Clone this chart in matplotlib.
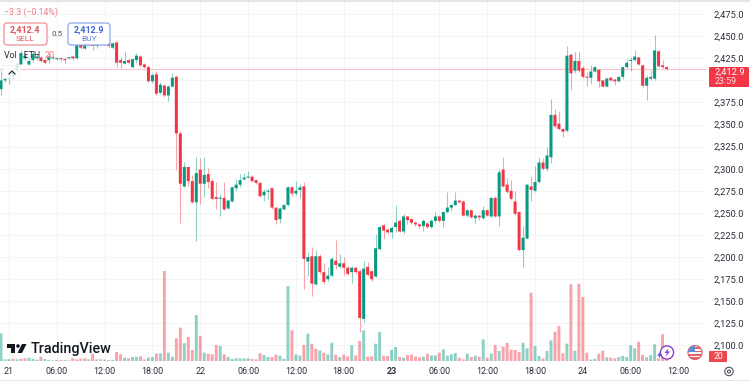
import matplotlib
matplotlib.use("Agg")
import numpy as np
import matplotlib.pyplot as plt
from matplotlib.patches import Circle, FancyBboxPatch, Polygon, Rectangle

plt.rcParams['font.family'] = ['Roboto', 'DejaVu Sans']

# 30 minute ETH candles
opens = [2390, 2400, 2402, 2404, 2411, 2418, 2425, 2418, 2423, 2425, 2426, 2423,
         2423, 2425, 2424, 2425, 2424, 2425, 2427, 2425, 2441, 2436, 2440, 2441,
         2439, 2441, 2442, 2442, 2437, 2443, 2423, 2419, 2423, 2415, 2423, 2427,
         2418, 2415, 2399, 2407, 2386, 2394, 2383, 2393, 2404, 2340, 2280, 2302,
         2286, 2262, 2299, 2283, 2294, 2286, 2268, 2266, 2267, 2255, 2263, 2278,
         2282, 2288, 2290, 2291, 2287, 2284, 2270, 2274, 2278, 2256, 2243, 2254,
         2259, 2279, 2272, 2276, 2280, 2195, 2201, 2169, 2201, 2183, 2175, 2179,
         2196, 2189, 2193, 2188, 2183, 2188, 2184, 2130, 2189, 2184, 2178, 2209,
         2236, 2231, 2228, 2234, 2241, 2229, 2246, 2243, 2239, 2237, 2235, 2238,
         2234, 2241, 2246, 2241, 2251, 2256, 2259, 2264, 2263, 2247, 2253, 2244,
         2247, 2244, 2253, 2246, 2267, 2246, 2299, 2282, 2275, 2263, 2251, 2208,
         2221, 2280, 2275, 2285, 2307, 2300, 2313, 2361, 2351, 2345, 2343, 2429,
         2411, 2422, 2414, 2404, 2403, 2410, 2412, 2400, 2393, 2403, 2401, 2399,
         2404, 2415, 2422, 2423, 2426, 2417, 2394, 2402, 2402, 2433, 2417, 2415]
highs = [2411, 2404, 2414, 2416, 2420, 2434, 2431, 2425, 2433, 2430, 2428, 2424,
         2431, 2428, 2427, 2426, 2426, 2427, 2429, 2444, 2445, 2443, 2444, 2443,
         2443, 2444, 2444, 2444, 2444, 2444, 2426, 2433, 2425, 2425, 2431, 2429,
         2420, 2417, 2408, 2411, 2398, 2396, 2395, 2408, 2406, 2343, 2308, 2302,
         2293, 2313, 2312, 2313, 2301, 2288, 2285, 2271, 2285, 2266, 2280, 2288,
         2294, 2295, 2298, 2293, 2288, 2285, 2277, 2278, 2279, 2257, 2257, 2260,
         2281, 2280, 2286, 2283, 2285, 2206, 2211, 2208, 2203, 2193, 2189, 2200,
         2219, 2204, 2200, 2190, 2190, 2189, 2186, 2196, 2195, 2185, 2226, 2236,
         2237, 2233, 2235, 2259, 2243, 2249, 2247, 2244, 2241, 2238, 2243, 2240,
         2243, 2251, 2248, 2252, 2274, 2260, 2274, 2265, 2264, 2255, 2254, 2249,
         2248, 2258, 2254, 2268, 2269, 2300, 2313, 2290, 2287, 2275, 2252, 2235,
         2283, 2292, 2303, 2313, 2312, 2325, 2379, 2368, 2365, 2346, 2439, 2431,
         2432, 2432, 2416, 2410, 2417, 2416, 2413, 2401, 2404, 2404, 2402, 2405,
         2416, 2424, 2426, 2434, 2427, 2418, 2406, 2412, 2451, 2434, 2423, 2416]
lows = [2383, 2398, 2396, 2402, 2408, 2420, 2423, 2417, 2421, 2423, 2421, 2419,
        2420, 2424, 2423, 2422, 2420, 2424, 2423, 2424, 2435, 2435, 2439, 2434,
        2437, 2440, 2440, 2437, 2436, 2415, 2414, 2418, 2418, 2414, 2420, 2416,
        2414, 2398, 2397, 2384, 2385, 2381, 2377, 2392, 2299, 2239, 2279, 2280,
        2261, 2218, 2260, 2268, 2278, 2265, 2254, 2246, 2253, 2254, 2262, 2275,
        2279, 2287, 2289, 2285, 2283, 2268, 2264, 2266, 2255, 2237, 2239, 2253,
        2258, 2269, 2270, 2267, 2164, 2179, 2156, 2168, 2181, 2170, 2173, 2178,
        2187, 2188, 2180, 2180, 2171, 2181, 2115, 2126, 2179, 2173, 2177, 2208,
        2221, 2226, 2222, 2228, 2228, 2226, 2238, 2238, 2235, 2233, 2229, 2233,
        2233, 2239, 2240, 2234, 2250, 2252, 2258, 2261, 2246, 2245, 2244, 2239,
        2242, 2243, 2246, 2245, 2245, 2235, 2279, 2272, 2265, 2248, 2207, 2189,
        2220, 2264, 2274, 2284, 2299, 2297, 2307, 2346, 2344, 2336, 2342, 2389,
        2408, 2410, 2403, 2394, 2396, 2409, 2392, 2392, 2392, 2399, 2395, 2398,
        2402, 2414, 2411, 2422, 2417, 2393, 2378, 2400, 2401, 2415, 2414, 2412]
closes = [2400, 2402, 2404, 2411, 2417, 2431, 2428, 2422, 2430, 2427, 2422, 2420,
          2427, 2426, 2425, 2424, 2423, 2426, 2425, 2441, 2437, 2440, 2441, 2439,
          2441, 2442, 2441, 2439, 2442, 2420, 2420, 2422, 2420, 2424, 2428, 2417,
          2415, 2399, 2406, 2385, 2395, 2383, 2393, 2403, 2340, 2283, 2302, 2286,
          2262, 2295, 2283, 2293, 2285, 2266, 2266, 2267, 2254, 2264, 2279, 2282,
          2287, 2290, 2291, 2286, 2284, 2269, 2274, 2275, 2256, 2242, 2255, 2259,
          2279, 2272, 2275, 2279, 2198, 2200, 2170, 2201, 2183, 2172, 2179, 2198,
          2191, 2193, 2188, 2181, 2188, 2183, 2131, 2187, 2180, 2175, 2210, 2234,
          2230, 2228, 2233, 2239, 2229, 2246, 2242, 2239, 2237, 2235, 2241, 2234,
          2241, 2246, 2241, 2251, 2256, 2259, 2264, 2262, 2247, 2253, 2245, 2247,
          2245, 2253, 2247, 2267, 2246, 2296, 2280, 2274, 2266, 2249, 2208, 2222,
          2282, 2276, 2285, 2307, 2300, 2315, 2361, 2348, 2345, 2342, 2428, 2408,
          2422, 2411, 2404, 2403, 2410, 2415, 2399, 2393, 2402, 2400, 2399, 2404,
          2415, 2420, 2423, 2427, 2418, 2394, 2403, 2404, 2434, 2416, 2415, 2412.9]
volumes = [83, 5, 5, 7, 5, 7, 8, 10, 7, 4, 13, 6, 3, 2, 3, 3, 3, 2, 8, 5, 7, 8, 5, 22,
           5, 5, 4, 3, 3, 27, 20, 10, 8, 12, 12, 14, 5, 10, 12, 22, 23, 270, 25, 13, 68, 100, 53, 72,
           33, 138, 75, 25, 22, 20, 48, 45, 20, 12, 6, 8, 8, 8, 8, 6, 5, 23, 18, 12, 12, 19, 16, 7,
           225, 92, 20, 16, 48, 82, 52, 37, 32, 25, 20, 55, 19, 12, 19, 14, 47, 17, 60, 92, 13, 14, 52, 87,
           16, 15, 33, 42, 12, 10, 18, 19, 13, 11, 13, 22, 17, 17, 25, 35, 16, 20, 24, 10, 5, 22, 12, 16,
           13, 65, 10, 22, 48, 30, 43, 54, 34, 33, 27, 55, 38, 205, 45, 15, 8, 30, 62, 88, 105, 23, 52, 230,
           31, 232, 192, 25, 4, 7, 22, 31, 11, 10, 8, 12, 15, 12, 47, 38, 58, 18, 11, 18, 50, 8, 80, 5]
volume_dirs = ("gggrgrrgggr" "gggrrgrrrrrg" "r" "grgrg"
               "rrgrggrrggrgrggrrgrrgrgrrrgrgggggg"
               "rrrggrrgggrggrgrrgrggrgrrgrrgrrggrrggrgrrrrgrggrggggrrgrgrgrgrg"
               "rrrrrggrggrggrrrgrgrrrggrrgrrgggggrrgggrrr")
# 2,400.0 sits behind the last price tag, so it has no label
price_ticks = [2475, 2450, 2425, 2375, 2350, 2325, 2300, 2275, 2250, 2225,
               2200, 2175, 2150, 2125, 2100]
grid_prices = [2475, 2450, 2425, 2400, 2375, 2350, 2325, 2300, 2275, 2250, 2225,
               2200, 2175, 2150, 2125, 2100]
time_positions = [2, 14, 26, 38, 50, 62, 74, 86, 98, 110, 122, 134, 146, 158, 170]
time_labels = ["21", "06:00", "12:00", "18:00", "22", "06:00", "12:00", "18:00", "23",
               "06:00", "12:00", "18:00", "24", "06:00", "12:00"]
last_price = 2412.9

UP = "#089981"
DOWN = "#F23645"
W, H = 750, 381
PLOT_W, PLOT_H = 706, 361

assert len(volumes) == len(volume_dirs) == len(closes)

opens, highs, lows, closes = map(np.array, (opens, highs, lows, closes))
idx = np.arange(len(closes))
rising = closes >= opens
candle_colors = np.where(rising, UP, DOWN)
vol_colors = [UP if d == "g" else DOWN for d in volume_dirs]

fig = plt.figure(figsize=(7.5, 3.81), dpi=100, facecolor="white")
rect = [0, 1 - PLOT_H / H, PLOT_W / W, PLOT_H / H]

# grid at the back, then volume, then candles
ax_grid = fig.add_axes(rect, zorder=0)
ax_vol = fig.add_axes(rect, zorder=1)
ax = fig.add_axes(rect, zorder=2)

for a in (ax_grid, ax, ax_vol):
    a.set_xlim(-0.25, 176.9)
ax_grid.set_ylim(2082.4, 2491)
ax.set_ylim(2082.4, 2491)
ax_vol.set_ylim(0, 1083)
vol_bars = ax_vol.bar(idx, volumes, width=0.74, color=vol_colors, alpha=0.45, linewidth=0)
for b in vol_bars:
    b.set_snap(False)
ax_vol.axis("off")
ax_vol.patch.set_visible(False)

ax.patch.set_visible(False)
ax.vlines(idx, lows, highs, colors=candle_colors, linewidth=0.8, alpha=0.45)
bodies = ax.bar(idx, np.maximum(np.abs(closes - opens), 1.2), bottom=np.minimum(opens, closes),
                width=0.76, color=candle_colors, linewidth=0)
for b in bodies:
    b.set_snap(False)
ax.axhline(last_price, color=DOWN, linewidth=0.8, alpha=0.28)

ax.set_yticks(price_ticks)
ax.set_yticklabels([f"{p:,.1f}" for p in price_ticks])
ax.set_xticks(time_positions)
ax.set_xticklabels(time_labels)
ax.yaxis.tick_right()
ax.tick_params(axis="y", length=0, pad=5.8, labelsize=6.7, labelcolor="#2a2e39")
ax.tick_params(axis="x", length=0, pad=4.5, labelsize=6.4, labelcolor="#2a2e39")
for lab in ax.get_xticklabels():
    if lab.get_text() == "23":
        lab.set_fontweight("bold")
for spine in ax.spines.values():
    spine.set_visible(False)

ax_grid.set_xticks(time_positions)
ax_grid.set_yticks(grid_prices)
ax_grid.grid(True, color="#f3f4f6", linewidth=0.8)
ax_grid.tick_params(length=0, labelleft=False, labelbottom=False)
for spine in ax_grid.spines.values():
    spine.set_visible(False)

# overlay in pixel coordinates for the widgets
ov = fig.add_axes([0, 0, 1, 1], zorder=3)
ov.set_xlim(0, W)
ov.set_ylim(H, 0)
ov.axis("off")
ov.patch.set_visible(False)

ov.add_patch(Rectangle((0, 0), W, 2, color="#e3e5ea", linewidth=0))
ov.add_patch(Rectangle((0, 379.5), W, 1.5, color="#e3e5ea", linewidth=0))

ov.text(4, 12.5, "\u22123.3 (\u22120.14%)", color="#ef7c86", fontsize=6.3, va="center")


def price_box(x, w, edge, price_color, label_color, price, label):
    ov.add_patch(FancyBboxPatch((x + 2, 25), w - 4, 18, boxstyle="round,pad=2,rounding_size=3",
                                facecolor="white", edgecolor=edge, linewidth=0.9))
    ov.text(x + w / 2, 29.8, price, color=price_color, fontsize=6.5, ha="center", va="center",
            fontweight="bold")
    ov.text(x + w / 2, 39.3, label, color=label_color, fontsize=6.0, ha="center", va="center")


price_box(4, 43, "#ef8f96", "#e0525c", "#e0525c", "2,412.4", "SELL")
price_box(68, 42, "#8fa8ee", "#3d66d6", "#5f83e0", "2,412.9", "BUY")
ov.text(57, 33.5, "0.5", color="#50535e", fontsize=5.8, ha="center", va="center")

ov.text(4, 56, "Vol \u00b7 ETH", color="#2a2e39", fontsize=6.4, va="center")
ov.text(45, 56, "20", color="#ef7c86", fontsize=6.6, va="center")
ov.add_patch(FancyBboxPatch((3, 66), 17, 12, boxstyle="round,pad=0.5,rounding_size=2",
                            facecolor="white", edgecolor="#eceef2", linewidth=0.6, alpha=0.85))
ov.plot([9, 12, 15], [74, 71, 74], color="#2a2e39", linewidth=0.9)

# TradingView logo
ov.add_patch(Polygon([(7, 344), (15, 344), (15, 353), (11, 353), (11, 348), (7, 348)], color="#131722", linewidth=0))
ov.add_patch(Circle((18, 346), 1.8, color="#131722", linewidth=0))
ov.add_patch(Polygon([(22, 344), (26.5, 344), (22, 353), (17.5, 353)], color="#131722", linewidth=0))
ov.text(31, 348.5, "TradingView", color="#131722", fontsize=10.4, fontweight="medium", va="center")

# last price tag
ov.add_patch(FancyBboxPatch((710, 68), 38, 18, boxstyle="round,pad=1,rounding_size=1",
                            facecolor=DOWN, edgecolor="none", linewidth=0))
ov.text(715, 72, "2,412.9", color="white", fontsize=6.7, ha="left", va="center")
ov.text(715, 81.5, "23:59", color="#fbdcdf", fontsize=6.4, ha="left", va="center")

# volume tag
ov.add_patch(Rectangle((709, 351), 18, 11, color="#f0474f", linewidth=0))
ov.text(718.5, 356.5, "20", color="white", fontsize=6.2, ha="center", va="center")

# lightning icon
ov.add_patch(Circle((667, 352.5), 6.6, facecolor="white", edgecolor="#8a3fd1", linewidth=1))
ov.add_patch(Polygon([(668.5, 348), (664.5, 353), (667, 353), (665.5, 357), (670, 351.5), (667.5, 351.5)],
                     color="#8a3fd1", linewidth=0))
ov.add_patch(Polygon([(659.5, 352), (660.2, 354), (662, 355), (660.2, 356), (659.5, 358),
                      (658.8, 356), (657, 355), (658.8, 354)], color="#6a4fd8", linewidth=0))

# flag icon
flag = Circle((695, 352.5), 7, facecolor="white", edgecolor="#e6626a", linewidth=0.9)
ov.add_patch(flag)
for sy in (347, 350.5, 354, 357):
    stripe = Rectangle((688, sy), 14, 1.7, color="#e6626a", linewidth=0)
    ov.add_patch(stripe)
    stripe.set_clip_path(flag)
canton = Rectangle((688, 345), 7, 7, color="#5b8fd6", linewidth=0)
ov.add_patch(canton)
canton.set_clip_path(flag)

# settings icon
ov.add_patch(Circle((729, 371.5), 4.2, facecolor="white", edgecolor="#50535e", linewidth=0.8))
ov.add_patch(Circle((729, 371.5), 1.5, facecolor="white", edgecolor="#50535e", linewidth=0.8))

plt.savefig("out.png", dpi=100)
plt.close()
